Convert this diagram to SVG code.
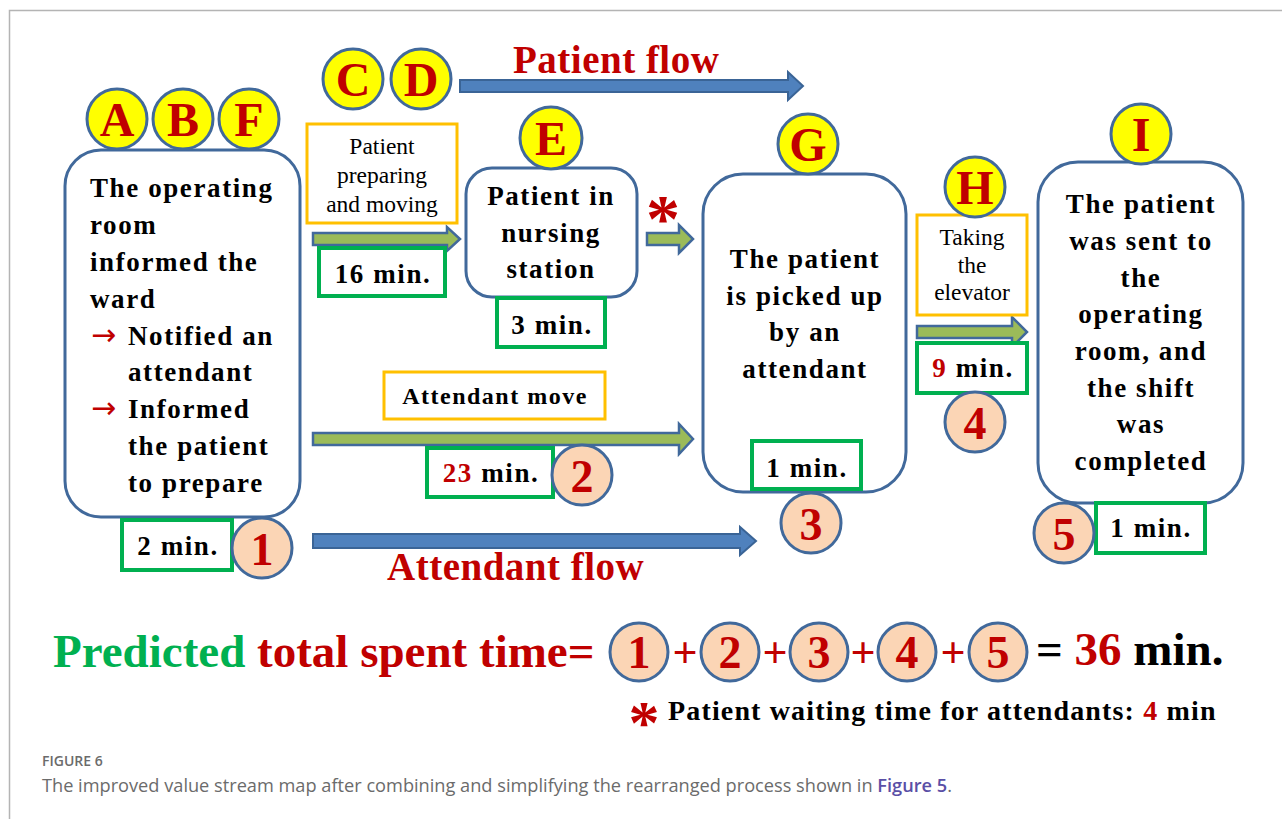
<svg xmlns="http://www.w3.org/2000/svg" width="1282" height="819" viewBox="0 0 1282 819">
  <style>
    .node { fill: #ffffff; stroke: #41699b; stroke-width: 3; }
    .badge { fill: #ffff00; stroke: #41699b; stroke-width: 3; }
    .step { fill: #fbd5b5; stroke: #41699b; stroke-width: 3; }
    .time { fill: #ffffff; stroke: #00b050; stroke-width: 4; }
    .task { fill: #ffffff; stroke: #ffc000; stroke-width: 3; }
    .flow { fill: #4f81bd; stroke: #3a6496; stroke-width: 2; }
    .move { fill: #9bbb59; stroke: #41699b; stroke-width: 2.5; }
    .bold { font-family: "Liberation Serif", "Times New Roman", serif; font-weight: bold; fill: #000; }
    .body { font-size: 27px; letter-spacing: 1.6px; }
    .letter { font-family: "Liberation Serif", serif; font-weight: bold; font-size: 48px; fill: #c00000; text-anchor: middle; }
    .num { font-family: "Liberation Serif", serif; font-weight: bold; font-size: 46px; fill: #c00000; text-anchor: middle; }
    .label { font-family: "Liberation Serif", serif; font-size: 23.5px; fill: #000; text-anchor: middle; }
    .pointer { font-family: "DejaVu Sans", sans-serif; font-size: 30px; fill: #c00000; }
    .red { fill: #c00000; }
    .green { fill: #00b050; }
    .mid { text-anchor: middle; }
    .cap { font-family: "Open Sans", "Liberation Sans", sans-serif; fill: #6b6b6b; }
  </style>

  <!-- page frame -->
  <path d="M9.5,819 V10.5 H1282" fill="none" stroke="#b4b4b4" stroke-width="1.5"/>

  <!-- connectors -->
  <g id="connectors">
    <path class="flow" d="M460,80 H788 V72 L803,86 L788,100 V92 H460 Z"/>
    <path class="move" d="M313,233 H447 V227 L460,239 L447,251 V245 H313 Z"/>
    <path class="move" d="M647,233 H679 V225 L693,239 L679,253 V245 H647 Z"/>
    <path class="move" d="M313,433 H679 V424 L693,439 L679,454 V445 H313 Z"/>
    <path class="move" d="M917,326 H1012 V317 L1027,332 L1012,347 V338 H917 Z"/>
    <path class="flow" d="M313,534 H740 V527 L756,541 L740,555 V548 H313 Z"/>
  </g>

  <!-- flow titles -->
  <text class="bold red" x="513" y="73" font-size="39" letter-spacing="0.5">Patient flow</text>
  <text class="bold red" x="387" y="580" font-size="39" letter-spacing="0.5">Attendant flow</text>

  <!-- node: ward informed -->
  <g id="node-ward">
    <rect class="node" x="65" y="150" width="235" height="367" rx="36"/>
    <text class="bold body" x="90" y="197">The operating</text>
    <text class="bold body" x="90" y="234">room</text>
    <text class="bold body" x="90" y="271">informed the</text>
    <text class="bold body" x="90" y="308">ward</text>
    <text class="pointer" x="91" y="345">→</text>
    <text class="bold body" x="128" y="345">Notified an</text>
    <text class="bold body" x="128" y="381">attendant</text>
    <text class="pointer" x="91" y="418">→</text>
    <text class="bold body" x="128" y="418">Informed</text>
    <text class="bold body" x="128" y="455">the patient</text>
    <text class="bold body" x="128" y="492">to prepare</text>
  </g>
  <g id="badges-abf">
    <circle class="badge" cx="117" cy="119" r="30"/>
    <text class="letter" x="117" y="136">A</text>
    <circle class="badge" cx="183" cy="119" r="30"/>
    <text class="letter" x="183" y="136">B</text>
    <circle class="badge" cx="249" cy="119" r="30"/>
    <text class="letter" x="249" y="136">F</text>
  </g>
  <g id="time-1">
    <rect class="time" x="122" y="520" width="110" height="50"/>
    <text class="bold body mid" x="178" y="555">2 min.</text>
    <circle class="step" cx="262" cy="548" r="30"/>
    <text class="num" x="262" y="565">1</text>
  </g>

  <!-- task: patient preparing and moving -->
  <g id="task-prepare">
    <circle class="badge" cx="353" cy="79" r="30"/>
    <text class="letter" x="353" y="96">C</text>
    <circle class="badge" cx="421" cy="79" r="30"/>
    <text class="letter" x="421" y="96">D</text>
    <rect class="task" x="307" y="124" width="150" height="99"/>
    <text class="label" x="382" y="154">Patient</text>
    <text class="label" x="382" y="183">preparing</text>
    <text class="label" x="382" y="212">and moving</text>
    <rect class="time" x="319" y="248" width="126" height="48"/>
    <text class="bold body mid" x="383" y="283">16 min.</text>
  </g>

  <!-- node: nursing station -->
  <g id="node-station">
    <rect class="node" x="466" y="168" width="171" height="129" rx="26"/>
    <text class="bold body mid" x="551" y="205">Patient in</text>
    <text class="bold body mid" x="551" y="242">nursing</text>
    <text class="bold body mid" x="551" y="278">station</text>
    <circle class="badge" cx="551" cy="138" r="31"/>
    <text class="letter" x="551" y="155">E</text>
    <rect class="time" x="497" y="298" width="108" height="49"/>
    <text class="bold body mid" x="552" y="334">3 min.</text>
  </g>

  <!-- waiting mark -->
  <text class="bold red mid" x="663" y="241" font-size="68">*</text>

  <!-- task: attendant move -->
  <g id="task-attendant">
    <rect class="task" x="384" y="372" width="221" height="47"/>
    <text class="bold mid" x="495" y="404" font-size="24" letter-spacing="1.5">Attendant move</text>
    <rect class="time" x="427" y="448" width="126" height="49"/>
    <text class="bold body mid" x="491" y="482"><tspan class="red">23</tspan> min.</text>
    <circle class="step" cx="582" cy="475" r="30"/>
    <text class="num" x="582" y="492">2</text>
  </g>

  <!-- node: pick-up -->
  <g id="node-pickup">
    <rect class="node" x="703" y="174" width="203" height="318" rx="40"/>
    <text class="bold body mid" x="805" y="268">The patient</text>
    <text class="bold body mid" x="805" y="305">is picked up</text>
    <text class="bold body mid" x="805" y="341">by an</text>
    <text class="bold body mid" x="805" y="378">attendant</text>
    <circle class="badge" cx="808" cy="144" r="30"/>
    <text class="letter" x="808" y="161">G</text>
    <rect class="time" x="752" y="441" width="109" height="48"/>
    <text class="bold body mid" x="807" y="477">1 min.</text>
    <circle class="step" cx="811" cy="523" r="30"/>
    <text class="num" x="811" y="540">3</text>
  </g>

  <!-- task: elevator -->
  <g id="task-elevator">
    <rect class="task" x="917" y="215" width="110" height="100"/>
    <text class="label" x="972" y="245">Taking</text>
    <text class="label" x="972" y="273">the</text>
    <text class="label" x="972" y="300">elevator</text>
    <circle class="badge" cx="975" cy="187" r="30"/>
    <text class="letter" x="975" y="204">H</text>
    <rect class="time" x="917" y="343" width="110" height="50"/>
    <text class="bold body mid" x="973" y="377"><tspan class="red">9</tspan> min.</text>
    <circle class="step" cx="975" cy="422" r="30"/>
    <text class="num" x="975" y="439">4</text>
  </g>

  <!-- node: sent to operating room -->
  <g id="node-operating">
    <rect class="node" x="1038" y="162" width="205" height="341" rx="40"/>
    <text class="bold body mid" x="1141" y="213">The patient</text>
    <text class="bold body mid" x="1141" y="250">was sent to</text>
    <text class="bold body mid" x="1141" y="287">the</text>
    <text class="bold body mid" x="1141" y="323">operating</text>
    <text class="bold body mid" x="1141" y="360">room, and</text>
    <text class="bold body mid" x="1141" y="397">the shift</text>
    <text class="bold body mid" x="1141" y="433">was</text>
    <text class="bold body mid" x="1141" y="470">completed</text>
    <circle class="badge" cx="1141" cy="134" r="30"/>
    <text class="letter" x="1141" y="151">I</text>
    <rect class="time" x="1096" y="503" width="109" height="50"/>
    <text class="bold body mid" x="1151" y="537">1 min.</text>
    <circle class="step" cx="1064" cy="533" r="30"/>
    <text class="num" x="1064" y="550">5</text>
  </g>

  <!-- total time formula -->
  <g id="formula">
    <text class="bold" x="53" y="667" font-size="47"><tspan class="green">Predicted</tspan><tspan class="red"> total spent time=</tspan></text>
    <circle class="step" cx="639" cy="652" r="29"/>
    <text class="num" x="639" y="668">1</text>
    <text class="bold red mid" x="685" y="667" font-size="44">+</text>
    <circle class="step" cx="730" cy="652" r="29"/>
    <text class="num" x="730" y="668">2</text>
    <text class="bold red mid" x="775" y="667" font-size="44">+</text>
    <circle class="step" cx="819" cy="652" r="29"/>
    <text class="num" x="819" y="668">3</text>
    <text class="bold red mid" x="863" y="667" font-size="44">+</text>
    <circle class="step" cx="907" cy="652" r="29"/>
    <text class="num" x="907" y="668">4</text>
    <text class="bold red mid" x="953" y="667" font-size="44">+</text>
    <circle class="step" cx="998" cy="652" r="29"/>
    <text class="num" x="998" y="668">5</text>
    <text class="bold" x="1036" y="665" font-size="47">= <tspan class="red">36</tspan> min.</text>
  </g>

  <!-- footnote -->
  <g id="footnote">
    <text class="bold red mid" x="644" y="743" font-size="62">*</text>
    <text class="bold" x="668" y="720" font-size="28" letter-spacing="1.15">Patient waiting time for attendants: <tspan class="red">4</tspan> min</text>
  </g>

  <!-- caption -->
  <text class="cap" x="42" y="766" font-size="14" font-weight="600">FIGURE 6</text>
  <text class="cap" x="42" y="792" font-size="18.2">The improved value stream map after combining and simplifying the rearranged process shown in <tspan fill="#5a4fa6" font-weight="600">Figure 5</tspan>.</text>
</svg>
